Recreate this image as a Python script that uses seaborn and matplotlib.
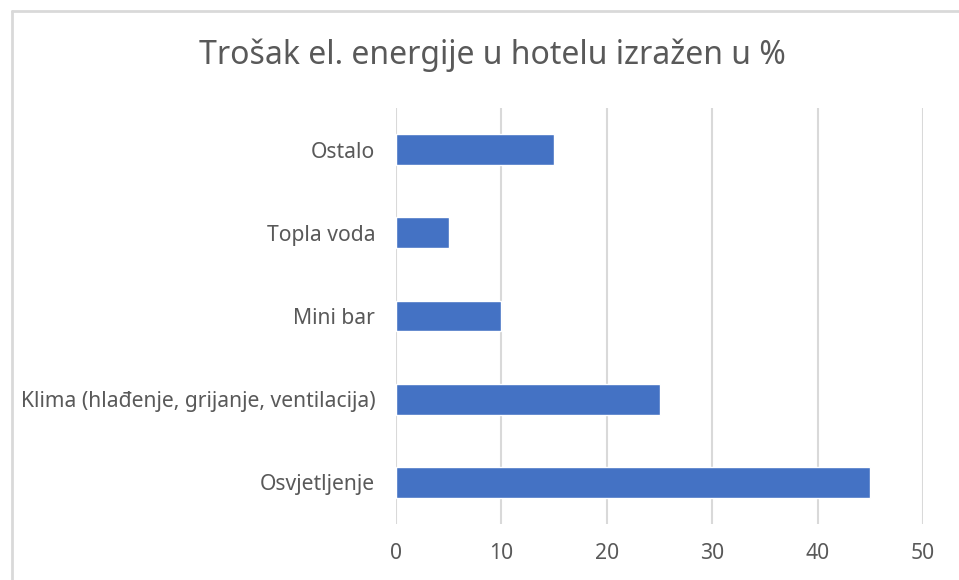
import matplotlib
matplotlib.use("Agg")
import matplotlib.pyplot as plt
import seaborn as sns
import pandas as pd
from matplotlib.lines import Line2D

categories = ["Ostalo", "Topla voda", "Mini bar",
              "Klima (hlađenje, grijanje, ventilacija)", "Osvjetljenje"]
values = [15, 5, 10, 25, 45]
xticks = [0, 10, 20, 30, 40, 50]
title = "Trošak el. energije u hotelu izražen u %"

sns.set_theme(style="white")
plt.rcParams['font.family'] = ['Noto Sans', 'DejaVu Sans']

W, H = 959, 580
fig = plt.figure(figsize=(W / 100, H / 100), dpi=100)
ax = fig.add_axes([396 / W, 1 - 524 / H, (923 - 396) / W, (524 - 108) / H])

df = pd.DataFrame({"cat": categories, "val": values})
sns.barplot(data=df, y="cat", x="val", order=categories, orient="h",
            color="#4472C4", saturation=1, width=0.37, ax=ax)

ax.set_xlim(0, 50)
ax.set_ylim(len(categories) - 0.5, -0.5)
ax.set_xticks(xticks)
ax.set_xticklabels([str(t) for t in xticks])
ax.grid(axis="x", color="#d9d9d9", linewidth=1.5)
ax.set_axisbelow(True)
for s in ax.spines.values():
    s.set_visible(False)
ax.set_xlabel("")
ax.set_ylabel("")
ax.tick_params(axis="both", length=0, labelsize=15.2, colors="#595959")
ax.tick_params(axis="y", pad=15)
ax.tick_params(axis="x", pad=14)

fig.text(492 / W, 1 - 55 / H, title, ha="center", va="center",
         fontsize=23, color="#595959")

# chart border
fig.add_artist(Line2D([11.5 / W, 11.5 / W], [0, 1 - 10.5 / H],
                      transform=fig.transFigure, color="#d9d9d9", linewidth=2))
fig.add_artist(Line2D([11.5 / W, 1], [1 - 10.5 / H, 1 - 10.5 / H],
                      transform=fig.transFigure, color="#d9d9d9", linewidth=2))

fig.savefig("out.png", dpi=100, facecolor="white")
